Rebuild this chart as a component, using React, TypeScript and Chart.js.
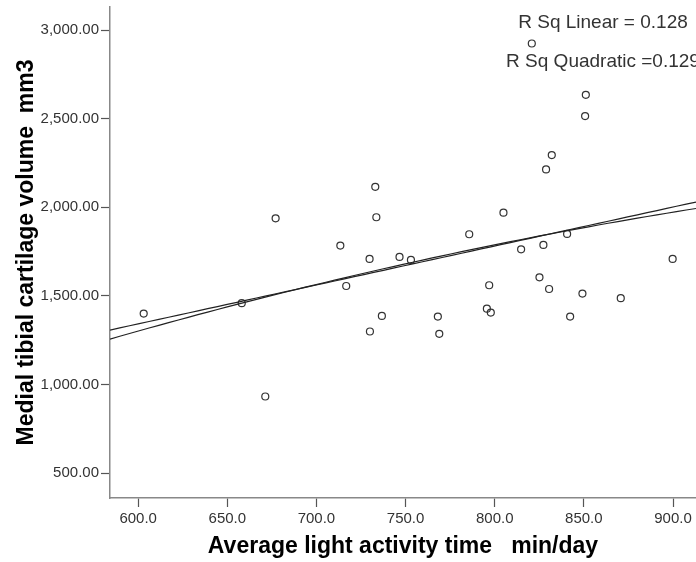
import React, { useEffect, useRef } from "react";
import { Chart, registerables } from "chart.js";

Chart.register(...registerables);

// Average light activity time (min/day)
const activityTime = [
  603.1, 658.1, 671.3, 677.1, 713.4, 716.7, 729.8, 730.0, 733.0, 733.6,
  736.7, 746.6, 753.0, 768.1, 768.9, 785.7, 795.6, 796.9, 797.8, 804.9,
  814.8, 820.8, 825.1, 827.3, 828.8, 830.5, 832.0, 840.6, 842.3, 849.2,
  850.7, 851.1, 870.7, 899.8,
];
// Medial tibial cartilage volume (mm3)
const cartilageVolume = [
  1400, 1459, 932, 1938, 1784, 1556, 1709, 1299, 2116, 1944,
  1387, 1720, 1703, 1383, 1286, 1848, 1428, 1560, 1406, 1970,
  1763, 2925, 1605, 1788, 2214, 1539, 2295, 1850, 1383, 1513,
  2515, 2635, 1487, 1709,
];

const xTicks = [600, 650, 700, 750, 800, 850, 900];
const yTicks = [500, 1000, 1500, 2000, 2500, 3000];

const xMin = 584.2;
const xMax = 912.9;
const yMin = 359;
const yMax = 3131;

const annotationTexts = ["R Sq Linear = 0.128", "R Sq Quadratic =0.129"];

// least squares fits computed from the data
function solve(A: number[][], b: number[]): number[] {
  const n = b.length;
  const M = A.map((r, i) => [...r, b[i]]);
  for (let i = 0; i < n; i++) {
    let p = i;
    for (let k = i + 1; k < n; k++) if (Math.abs(M[k][i]) > Math.abs(M[p][i])) p = k;
    [M[i], M[p]] = [M[p], M[i]];
    for (let k = 0; k < n; k++) {
      if (k === i) continue;
      const f = M[k][i] / M[i][i];
      for (let j = i; j <= n; j++) M[k][j] -= f * M[i][j];
    }
  }
  return M.map((r, i) => r[n] / r[i]);
}
function polyFit(xs: number[], ys: number[], deg: number): number[] {
  const m = deg + 1;
  const A = Array.from({ length: m }, () => new Array(m).fill(0));
  const b = new Array(m).fill(0);
  xs.forEach((x0, idx) => {
    const x = x0 - 750;
    for (let i = 0; i < m; i++) {
      for (let j = 0; j < m; j++) A[i][j] += Math.pow(x, i + j);
      b[i] += ys[idx] * Math.pow(x, i);
    }
  });
  return solve(A, b);
}
function evalPoly(coef: number[], x0: number) {
  const x = x0 - 750;
  return coef.reduce((s, c, i) => s + c * Math.pow(x, i), 0);
}

const FONT = "'Liberation Sans', Arial, sans-serif";

export default function App() {
  const ref = useRef<HTMLCanvasElement>(null);
  useEffect(() => {
    const lin = polyFit(activityTime, cartilageVolume, 1);
    const quad = polyFit(activityTime, cartilageVolume, 2);
    const steps = 60;
    const xsLine: number[] = [];
    for (let i = 0; i <= steps; i++) xsLine.push(xMin + ((xMax - xMin) * i) / steps);

    const annot = {
      id: "annot",
      afterDraw(chart: any) {
        const ctx = chart.ctx;
        ctx.save();
        ctx.fillStyle = "#333";
        ctx.font = `19px ${FONT}`;
        ctx.textAlign = "center";
        ctx.textBaseline = "middle";
        ctx.fillText(annotationTexts[0], 603, 23);
        ctx.fillText(annotationTexts[1], 603, 62);
        ctx.restore();
      },
    };

    const chart = new Chart(ref.current!, {
      type: "scatter",
      data: {
        datasets: [
          {
            type: "line",
            data: xsLine.map((x) => ({ x, y: evalPoly(lin, x) })),
            borderColor: "#222",
            borderWidth: 1.2,
            pointRadius: 0,
            fill: false,
          } as any,
          {
            type: "line",
            data: xsLine.map((x) => ({ x, y: evalPoly(quad, x) })),
            borderColor: "#222",
            borderWidth: 1.2,
            pointRadius: 0,
            fill: false,
          } as any,
          {
            data: activityTime.map((x, i) => ({ x, y: cartilageVolume[i] })),
            pointRadius: 3.5,
            pointBorderWidth: 1.2,
            pointBorderColor: "#333",
            pointBackgroundColor: "rgba(255,255,255,0)",
          },
        ],
      },
      options: {
        animation: false,
        responsive: false,
        layout: { autoPadding: false, padding: { top: 7, right: 0, left: 0, bottom: 0 } },
        plugins: { legend: { display: false }, tooltip: { enabled: false } },
        scales: {
          x: {
            type: "linear",
            min: xMin,
            max: xMax,
            afterBuildTicks: (s: any) => {
              s.ticks = xTicks.map((v) => ({ value: v }));
            },
            afterFit: (s: any) => {
              s.height = 64;
              s.paddingLeft = 0;
              s.paddingRight = 0;
            },
            ticks: {
              color: "#333",
              padding: 3,
              autoSkip: false,
              maxRotation: 0,
              font: { family: FONT, size: 15 },
              callback: (v: any) => Number(v).toFixed(1),
            },
            grid: {
              drawOnChartArea: false,
              drawTicks: true,
              tickLength: 9,
              color: "#555",
              tickWidth: 1.2,
            },
            border: { display: true, color: "#888", width: 1.5 },
            title: {
              display: true,
              text: "Average light activity time   min/day",
              color: "#000",
              font: { family: FONT, size: 23, weight: "bold", lineHeight: 1.2 },
              padding: { top: 0, bottom: 2 },
            },
          },
          y: {
            type: "linear",
            min: yMin,
            max: yMax,
            afterBuildTicks: (s: any) => {
              s.ticks = yTicks.map((v) => ({ value: v }));
            },
            afterFit: (s: any) => {
              s.width = 110;
              s.paddingTop = 0;
              s.paddingBottom = 0;
            },
            ticks: {
              color: "#333",
              padding: 2,
              autoSkip: false,
              font: { family: FONT, size: 15 },
              callback: (v: any) =>
                Number(v).toLocaleString("en-US", { minimumFractionDigits: 2, maximumFractionDigits: 2 }),
            },
            grid: {
              drawOnChartArea: false,
              drawTicks: true,
              tickLength: 9,
              color: "#555",
              tickWidth: 1.2,
            },
            border: { display: true, color: "#888", width: 1.5 },
            title: {
              display: true,
              text: "Medial tibial cartilage volume  mm3",
              color: "#000",
              font: { family: FONT, size: 23, weight: "bold", lineHeight: 1.2 },
              padding: { top: 13, bottom: 0 },
            },
          },
        },
      },
      plugins: [annot],
    });
    return () => chart.destroy();
  }, []);
  return (
    <div style={{ position: "absolute", left: 0, top: 0, width: 696, height: 562, background: "#fff" }}>
      <canvas ref={ref} width={696} height={562} style={{ display: "block" }} />
    </div>
  );
}
